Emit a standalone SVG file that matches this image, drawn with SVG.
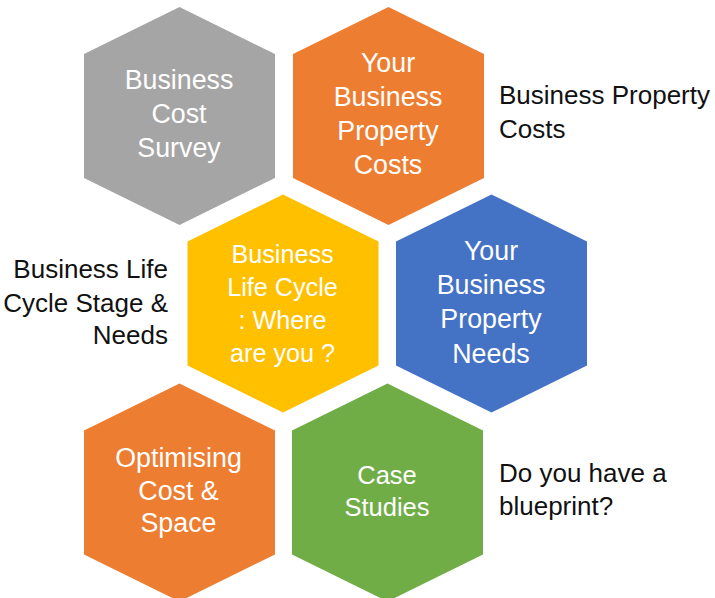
<svg xmlns="http://www.w3.org/2000/svg" xmlns:xlink="http://www.w3.org/1999/xlink" width="715" height="598" viewBox="0 0 715 598">
  <style>
    .hl { font-family: "Liberation Sans", Arial, sans-serif; fill: #ffffff; text-anchor: middle; }
    .lbl { font-family: "Liberation Sans", Arial, sans-serif; fill: #111111; font-size: 26px; }
    .gray { fill: #A5A5A5; }
    .orange { fill: #ED7D31; }
    .yellow { fill: #FFC000; }
    .blue { fill: #4472C4; }
    .green { fill: #70AD47; }
  </style>
  <defs>
    <polygon id="hex" points="0,-109 95.5,-62 95.5,62 0,109 -95.5,62 -95.5,-62"/>
  </defs>
  <rect width="715" height="598" fill="#ffffff"/>
  <g id="connectors"/>

  <g id="node-cost-survey">
    <use xlink:href="#hex" href="#hex" class="gray" transform="translate(179.5,116)"/>
    <text class="hl" font-size="26.8" x="179" y="89">Business</text>
    <text class="hl" font-size="26.8" x="179" y="123">Cost</text>
    <text class="hl" font-size="26.8" x="179" y="157">Survey</text>
  </g>

  <g id="node-property-costs">
    <use xlink:href="#hex" href="#hex" class="orange" transform="translate(388.5,116)"/>
    <text class="hl" font-size="26.8" x="388" y="72">Your</text>
    <text class="hl" font-size="26.8" x="388" y="106">Business</text>
    <text class="hl" font-size="26.8" x="388" y="140">Property</text>
    <text class="hl" font-size="26.8" x="388" y="174">Costs</text>
  </g>

  <g id="node-life-cycle">
    <use xlink:href="#hex" href="#hex" class="yellow" transform="translate(283,303.5)"/>
    <text class="hl" font-size="25.2" x="282.5" y="263">Business</text>
    <text class="hl" font-size="25.2" x="282.5" y="296">Life Cycle</text>
    <text class="hl" font-size="25.2" x="282.5" y="329">: Where</text>
    <text class="hl" font-size="25.2" x="282.5" y="362">are you ?</text>
  </g>

  <g id="node-property-needs">
    <use xlink:href="#hex" href="#hex" class="blue" transform="translate(491.5,303.5)"/>
    <text class="hl" font-size="26.8" x="491" y="260">Your</text>
    <text class="hl" font-size="26.8" x="491" y="294">Business</text>
    <text class="hl" font-size="26.8" x="491" y="328">Property</text>
    <text class="hl" font-size="26.8" x="491" y="362.5">Needs</text>
  </g>

  <g id="node-optimising">
    <use xlink:href="#hex" href="#hex" class="orange" transform="translate(179.5,492.5)"/>
    <text class="hl" font-size="26.8" x="178.5" y="467">Optimising</text>
    <text class="hl" font-size="26.8" x="178.5" y="499.5">Cost &amp;</text>
    <text class="hl" font-size="26.8" x="178.5" y="532">Space</text>
  </g>

  <g id="node-case-studies">
    <use xlink:href="#hex" href="#hex" class="green" transform="translate(387.5,492.5)"/>
    <text class="hl" font-size="25.5" x="387" y="483.5">Case</text>
    <text class="hl" font-size="25.5" x="387" y="516">Studies</text>
  </g>

  <g id="label-property-costs">
    <text class="lbl" x="499" y="104">Business Property</text>
    <text class="lbl" x="499" y="138">Costs</text>
  </g>

  <g id="label-life-cycle">
    <text class="lbl" text-anchor="end" x="168" y="278">Business Life</text>
    <text class="lbl" text-anchor="end" x="168" y="311.5">Cycle Stage &amp;</text>
    <text class="lbl" text-anchor="end" x="168" y="343.5">Needs</text>
  </g>

  <g id="label-blueprint">
    <text class="lbl" x="499" y="482">Do you have a</text>
    <text class="lbl" x="499" y="515">blueprint?</text>
  </g>
</svg>
